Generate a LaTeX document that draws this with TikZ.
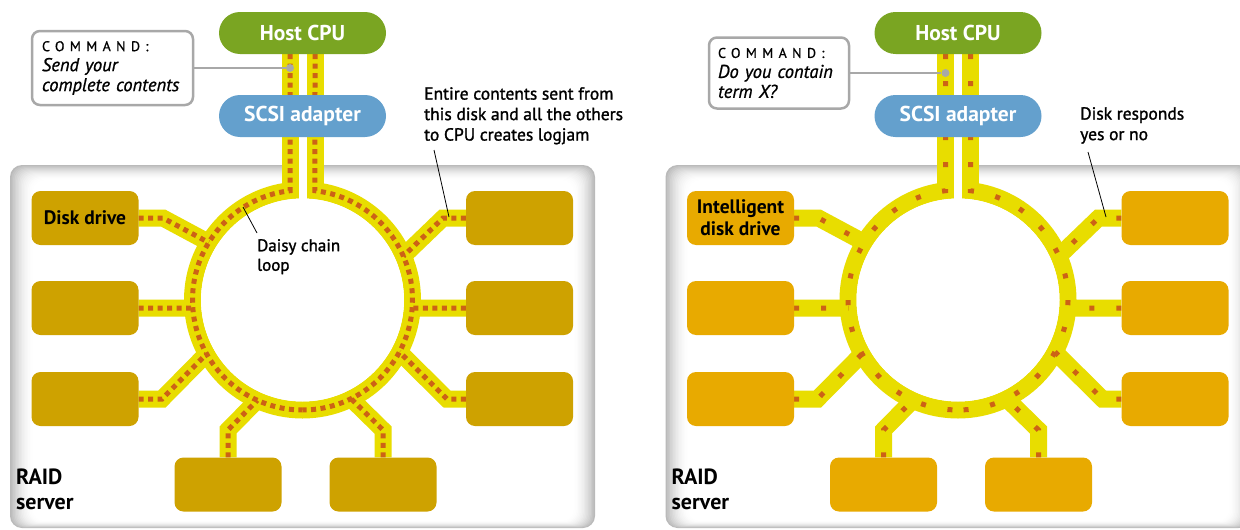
\documentclass[tikz,border=0pt]{standalone}
\usepackage{fontspec}
\setmainfont{PT Sans}
\newfontfamily\spacedfont[LetterSpace=38,FakeBold=0.8]{PT Sans}
\newfontfamily\capfont[FakeBold=1.4]{PT Sans}
\newfontfamily\cmdfont[FakeBold=0.9]{PT Sans}
\usetikzlibrary{calc,shapes.misc}

\definecolor{cpugreen}{RGB}{122,165,34}
\definecolor{scsiblue}{RGB}{100,160,205}
\definecolor{busyellow}{RGB}{232,221,0}
\definecolor{dotorange}{RGB}{204,98,22}
\definecolor{diskdark}{RGB}{206,162,0}
\definecolor{disklight}{RGB}{232,170,0}
\definecolor{framegray}{RGB}{168,168,168}

\pgfdeclarelayer{frame}
\pgfdeclarelayer{bus}
\pgfdeclarelayer{dots}
\pgfsetlayers{frame,bus,dots,main}

\tikzset{
  bus/.style={draw=busyellow, line width=17pt},
  densedots/.style={draw=dotorange, line width=5pt, dash pattern=on 5pt off 4.5pt},
  sparsedots/.style={draw=dotorange, line width=5pt, dash pattern=on 5pt off 22pt},
  pill/.style={rounded rectangle, minimum width=167pt, minimum height=42pt, inner sep=0pt,
    text=white, font=\bfseries\fontsize{21.5}{24}\selectfont},
  disk/.style={rectangle, rounded corners=9pt, minimum width=107pt, minimum height=54pt,
    inner sep=0pt, align=center, font=\bfseries\fontsize{19.5}{22}\selectfont},
  raidlabel/.style={anchor=north west, inner sep=0pt, align=left,
    font=\bfseries\fontsize{22}{25}\selectfont},
  caption/.style={anchor=north west, inner sep=0pt, align=left,
    font=\capfont\fontsize{17.5}{20.5}\selectfont},
  cmdbox/.style={draw=framegray, line width=2.5pt, fill=white, rounded corners=8pt,
    align=left, inner ysep=0pt, font=\cmdfont\fontsize{18.5}{20}\selectfont},
  cmdline/.style={draw=framegray, line width=2.5pt},
  cmddot/.style={circle, fill=framegray, minimum size=8pt, inner sep=0pt},
  leader/.style={draw=black, line width=0.8pt},
}

% one bus segment: yellow track underneath, dotted signal on top
\newcommand\spoke[2]{%
  \begin{pgfonlayer}{bus}\draw[bus] #2;\end{pgfonlayer}%
  \begin{pgfonlayer}{dots}\draw[#1] #2;\end{pgfonlayer}%
}

% RAID server: #1 name prefix, #2 x offset, #3 disk colour, #4 dot style, #5 first disk label
\newcommand\raidpanel[5]{%
\begin{scope}[shift={(#2,0)}]
  \begin{pgfonlayer}{frame}
    \begin{scope}
      \clip ({-#2},0) rectangle ({1240-#2},530);
      \foreach \i in {0,...,15}{%
        \pgfmathsetmacro\gv{27*(1-\i/16)^2}%
        \fill[black!\gv, rounded corners=12pt]
          ({10+1.5*\i},{165+1.0*\i}) rectangle ({595-1.4*\i},{528-0.45*\i});
      }
      \fill[white, rounded corners=10pt] (34,181) rectangle (572.6,520.8);
    \end{scope}
  \end{pgfonlayer}

  \coordinate (#1c) at (302.5,300);
  \node[pill, fill=cpugreen] (#1cpu) at (302.5,33) {Host CPU};
  \node[pill, fill=scsiblue] (#1scsi) at (302.5,116) {SCSI adapter};
  \node[disk, fill=#3] (#1d1) at (85,218) {#5};
  \node[disk, fill=#3] (#1d2) at (85,308) {};
  \node[disk, fill=#3] (#1d3) at (85,399) {};
  \node[disk, fill=#3] (#1d4) at (228,484.5) {};
  \node[disk, fill=#3] (#1d5) at (383,484.5) {};
  \node[disk, fill=#3] (#1d6) at (519.5,399) {};
  \node[disk, fill=#3] (#1d7) at (519.5,308) {};
  \node[disk, fill=#3] (#1d8) at (519.5,218) {};
  \node[raidlabel] (#1raid) at (16,469) {RAID\\server};

  % daisy chain loop and the two lines up to the host
  \begin{pgfonlayer}{bus}
    \draw[bus] (#1c) circle[radius=110];
    \draw[bus] ([xshift=-12.5pt]#1cpu.south) -- ++(0,141);
    \draw[bus] ([xshift=12.5pt]#1cpu.south) -- ++(0,141);
  \end{pgfonlayer}
  \begin{pgfonlayer}{dots}
    \draw[#4] ([xshift=-12.5pt]#1cpu.south) -- ($(#1c)+(263.48:110)$)
      arc[start angle=263.48, end angle=90, radius=110];
    \draw[#4] ([xshift=12.5pt]#1cpu.south) -- ($(#1c)+(276.52:110)$)
      arc[start angle=276.52, end angle=450, radius=110];
  \end{pgfonlayer}

  % branches from each disk to the loop
  \spoke{#4}{(#1d1.east) -- (163,218) -- ($(#1c)+(211.5:110)$)}
  \spoke{#4}{(#1d2.east) -- ($(#1c)+(175.8:110)$)}
  \spoke{#4}{(#1d3.east) -- (162,399) -- ($(#1c)+(150.7:110)$)}
  \spoke{#4}{(#1d4.north) -- (228,430) -- ($(#1c)+(114.3:110)$)}
  \spoke{#4}{(#1d5.north) -- (383,430) -- ($(#1c)+(63.8:110)$)}
  \spoke{#4}{(#1d6.west) -- (447,399) -- ($(#1c)+(28.2:110)$)}
  \spoke{#4}{(#1d7.west) -- ($(#1c)+(4.2:110)$)}
  \spoke{#4}{(#1d8.west) -- (443,218) -- ($(#1c)+(336.5:110)$)}

  \begin{pgfonlayer}{bus}
    \fill[white] (#1c) circle[radius=101.5];
    \fill[white] (298.5,130) rectangle (306.5,205);
  \end{pgfonlayer}
\end{scope}
}

\begin{document}
\begin{tikzpicture}[x=1pt, y=1pt, yscale=-1]
  \useasboundingbox (0,0) rectangle (1240,530);
  \begin{pgfonlayer}{frame}
    \fill[white] (0,0) rectangle (1240,530);
  \end{pgfonlayer}

  % conventional disks
  \raidpanel{L}{0}{diskdark}{densedots}{Disk drive}
  % intelligent disks
  \raidpanel{R}{655.5}{disklight}{sparsedots}{Intelligent\\disk drive}

  % commands sent by the host
  \node[cmdbox, text width=141pt, inner xsep=10pt, minimum height=74pt] (lcmd) at (112.5,68)
    {{\spacedfont\fontsize{14}{20}\selectfont COMMAND:}\\\textit{Send your}\\\textit{complete contents}};
  \node[cmddot] (ldot) at (290,68) {};
  \draw[cmdline] (lcmd.east) -- (ldot);

  \node[cmdbox, text width=122pt, inner xsep=9pt, minimum height=71pt] (rcmd) at (779,73)
    {{\spacedfont\fontsize{14}{20}\selectfont COMMAND:}\\\textit{Do you contain}\\\textit{term X?}};
  \node[cmddot] (rdot) at (945.5,73) {};
  \draw[cmdline] (rcmd.east) -- (rdot);

  % annotations
  \node[caption] (entire) at (424,87)
    {Entire contents sent from\\this disk and all the others\\to CPU creates logjam};
  \coordinate (entireFoot) at (434,150);
  \coordinate (entireTip) at (449,217);
  \draw[leader] (entireFoot) -- (entireTip);

  \node[caption, font=\capfont\fontsize{17}{19.5}\selectfont] (daisy) at (257,239)
    {Daisy chain\\loop};
  \coordinate (daisyFoot) at (257,233);
  \coordinate (daisyTip) at (243,207);
  \draw[leader] (daisyFoot) -- (daisyTip);

  \node[caption] (responds) at (1080,107) {Disk responds\\yes or no};
  \coordinate (respondsFoot) at (1088,152);
  \coordinate (respondsTip) at (1106,217);
  \draw[leader] (respondsFoot) -- (respondsTip);
\end{tikzpicture}
\end{document}
